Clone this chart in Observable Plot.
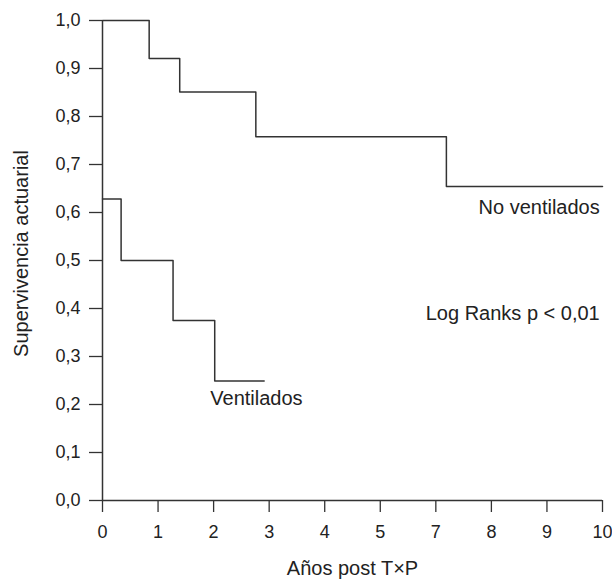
<!DOCTYPE html>
<html><head><meta charset="utf-8">
<script src="https://cdn.jsdelivr.net/npm/d3@7"></script>
<script src="https://cdn.jsdelivr.net/npm/@observablehq/plot@0.6"></script>
<style>body{margin:0;background:#fff;}</style>
</head><body><div id="chart"></div>
<script>
// Tick labels of the x axis (evenly spaced; the original skips "6")
const xTickLabels = ["0","1","2","3","4","5","7","8","9","10"];
const yTicks = [0,0.1,0.2,0.3,0.4,0.5,0.6,0.7,0.8,0.9,1.0];

// Series (x in tick-position units, y survival)
const noVentX = [0, 0.84, 1.39, 2.76, 6.19, 9.0];
const noVentY = [1.0, 0.921, 0.851, 0.758, 0.654, 0.654];
const ventX = [0, 0.335, 1.27, 2.02, 2.91];
const ventY = [0.628, 0.5, 0.375, 0.249, 0.249];

// Annotations
const endTexts = ["No ventilados", "Log Ranks p < 0,01"];
const endX = [8.95, 8.95];
const endY = [0.61, 0.39];
const startTexts = ["Ventilados"];
const startX = [1.94];
const startY = [0.2125];

const xLabel = "Años post T×P";
const yLabel = "Supervivencia actuarial";

const noVent = noVentX.map((x, i) => ({x, y: noVentY[i]}));
const vent = ventX.map((x, i) => ({x, y: ventY[i]}));
const endAnn = endTexts.map((t, i) => ({t, x: endX[i], y: endY[i]}));
const startAnn = startTexts.map((t, i) => ({t, x: startX[i], y: startY[i]}));
const xTickPos = d3.range(xTickLabels.length);

const ink = "#333";
const txt = "#222";
const comma = d => d3.format(".1f")(d).replace(".", ",");

const chart = Plot.plot({
  width: 612,
  height: 579,
  marginLeft: 102,
  marginRight: 10,
  marginTop: 20,
  marginBottom: 79,
  style: {fontFamily: "'Liberation Sans', Arial, sans-serif", color: txt, background: "#fff"},
  x: {domain: [0, 9]},
  y: {domain: [0, 1]},
  marks: [
    Plot.axisY({ticks: yTicks, tickFormat: () => "", tickSize: 13, label: null, stroke: ink, strokeWidth: 1.3}),
    Plot.axisX({ticks: xTickPos, tickFormat: () => "", tickSize: 12, label: null, stroke: ink, strokeWidth: 1.3}),
    Plot.text(yTicks, {y: d => d, text: comma, frameAnchor: "left", textAnchor: "end", lineAnchor: "middle", dx: -22, fontSize: 18, fill: txt}),
    Plot.text(xTickPos, {x: d => d, text: i => xTickLabels[i], frameAnchor: "bottom", textAnchor: "middle", lineAnchor: "top", dy: 25, fontSize: 18, fill: txt}),
    Plot.ruleX([0], {stroke: ink, strokeWidth: 1.5}),
    Plot.ruleY([0], {stroke: ink, strokeWidth: 1.5}),
    Plot.line(noVent, {x: "x", y: "y", curve: "step-after", stroke: ink, strokeWidth: 1.5}),
    Plot.line(vent, {x: "x", y: "y", curve: "step-after", stroke: ink, strokeWidth: 1.5}),
    Plot.text(endAnn, {x: "x", y: "y", text: "t", textAnchor: "end", fontSize: 20, fill: txt}),
    Plot.text(startAnn, {x: "x", y: "y", text: "t", textAnchor: "start", fontSize: 20, fill: txt}),
    Plot.text([xLabel], {frameAnchor: "bottom", textAnchor: "middle", lineAnchor: "middle", dy: 68, text: d => d, fontSize: 20, fill: txt}),
    Plot.text([yLabel], {frameAnchor: "left", textAnchor: "middle", lineAnchor: "middle", dx: -81, dy: -7, rotate: -90, text: d => d, fontSize: 20, fill: txt})
  ]
});
document.getElementById("chart").appendChild(chart);
</script>
</body></html>
